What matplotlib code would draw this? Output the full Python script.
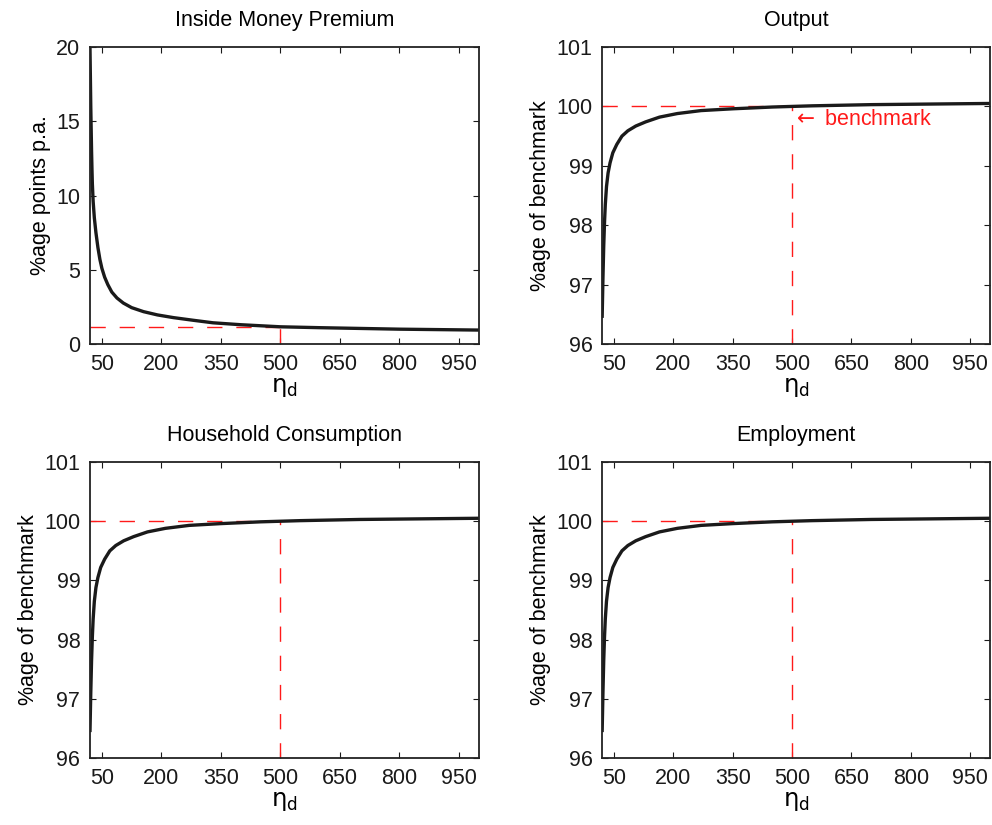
import matplotlib
matplotlib.use('Agg')
import matplotlib.pyplot as plt

plt.rcParams['font.family'] = ['Liberation Sans', 'DejaVu Sans']
plt.rcParams['mathtext.fontset'] = 'dejavusans'

# values
eta_prem = [20, 21, 22, 23, 24, 25, 26, 28, 31, 35, 40, 45, 50, 57, 65, 75, 88,
            104, 125, 155, 190, 230, 280, 330, 400, 500, 600, 700, 800, 900, 1000]
premium = [20.0, 18.0, 16.0, 14.5, 13.0, 11.8, 10.8, 9.6, 8.5, 7.5, 6.5, 5.7, 5.1,
           4.5, 4.0, 3.5, 3.1, 2.76, 2.45, 2.18, 1.96, 1.78, 1.6, 1.43, 1.3, 1.16,
           1.1, 1.05, 1.0, 0.97, 0.94]

eta_out = [20, 22, 24, 26, 28, 31, 35, 40, 47, 57, 70, 85, 105, 130, 165, 210,
           270, 350, 450, 550, 700, 850, 1000]
output = [96.44, 97.1, 97.65, 98.05, 98.35, 98.65, 98.88, 99.05, 99.22, 99.36,
          99.5, 99.59, 99.67, 99.74, 99.82, 99.88, 99.93, 99.96, 99.99, 100.01,
          100.03, 100.04, 100.05]
consumption = [96.44, 97.1, 97.65, 98.05, 98.35, 98.65, 98.88, 99.05, 99.22, 99.36,
               99.5, 99.59, 99.67, 99.74, 99.82, 99.88, 99.93, 99.96, 99.99, 100.01,
               100.03, 100.04, 100.05]
employment = [96.44, 97.1, 97.65, 98.05, 98.35, 98.65, 98.88, 99.05, 99.22, 99.36,
              99.5, 99.59, 99.67, 99.74, 99.82, 99.88, 99.93, 99.96, 99.99, 100.01,
              100.03, 100.04, 100.05]

bench_eta = 500
bench_prem = 1.16
bench_level = 100

xticks = [50, 200, 350, 500, 650, 800, 950]
fs = 15.5
red = '#ff1a1a'

fig = plt.figure(figsize=(9.92, 8.25), dpi=100)
boxes = [[0.0907, 0.583, 0.392, 0.360], [0.607, 0.583, 0.391, 0.360],
         [0.0907, 0.081, 0.392, 0.359], [0.607, 0.081, 0.391, 0.359]]
titles = ['Inside Money Premium', 'Output', 'Household Consumption', 'Employment']
series = [(eta_prem, premium), (eta_out, output), (eta_out, consumption), (eta_out, employment)]

for k in range(4):
    ax = fig.add_axes(boxes[k])
    x, y = series[k]
    if k == 0:
        ax.plot([20, bench_eta], [bench_prem, bench_prem], color=red, lw=1, dashes=(11, 10))
        ax.plot([bench_eta, bench_eta], [0, bench_prem], color=red, lw=1, dashes=(11, 10))
        ax.set_ylim(0, 20)
        ax.set_yticks([0, 5, 10, 15, 20])
        ax.set_ylabel('%age points p.a.', fontsize=fs)
    else:
        ax.plot([20, bench_eta], [bench_level, bench_level], color=red, lw=1, dashes=(11, 10))
        ax.plot([bench_eta, bench_eta], [96, bench_level], color=red, lw=1, dashes=(11, 10))
        ax.set_ylim(96, 101)
        ax.set_yticks([96, 97, 98, 99, 100, 101])
        ax.set_ylabel('%age of benchmark', fontsize=fs)
    ax.plot(x, y, color='#1a1a1a', lw=2.4, solid_capstyle='butt')
    if k == 1:
        ax.text(bench_eta, 99.78, r'$\leftarrow$ benchmark', color=red, fontsize=fs,
                ha='left', va='center')
    ax.set_xlim(20, 1000)
    ax.set_xticks(xticks)
    ax.set_xlabel(r'$\mathrm{\eta}_\mathrm{d}$', fontsize=fs + 2, labelpad=1)
    ax.set_title(titles[k], fontsize=fs, pad=15)
    ax.tick_params(direction='in', length=4, width=0.8, top=True, right=True,
                   labelsize=fs, pad=7, colors='#1a1a1a')
    for s in ax.spines.values():
        s.set_linewidth(1.3)
        s.set_color('#222222')

fig.savefig('out.png', dpi=100)
